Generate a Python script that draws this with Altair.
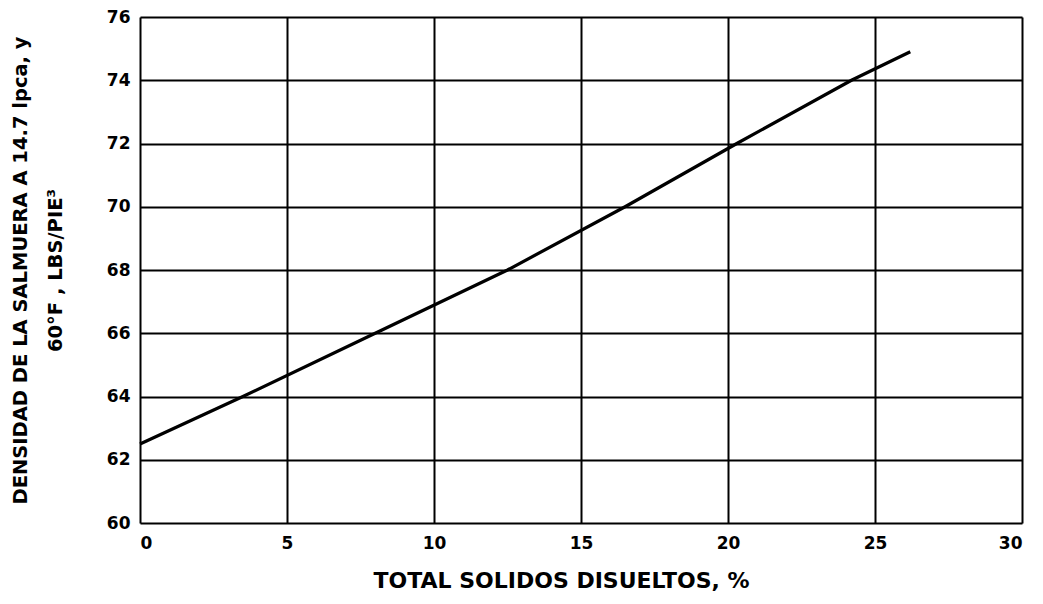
import altair as alt
import pandas as pd

solids = [0, 3.5, 8, 12.5, 16.5, 20.3, 24.2, 26.2]
density = [62.5, 64.0, 66.0, 68.0, 70.0, 72.0, 74.0, 74.9]
x_ticks = [0, 5, 10, 15, 20, 25, 30]
y_ticks = [60, 62, 64, 66, 68, 70, 72, 74, 76]

df = pd.DataFrame({"solids": solids, "density": density})

FONT = "DejaVu Sans"

chart = alt.Chart(df).mark_line(color="black", strokeWidth=3.2).encode(
    x=alt.X("solids:Q",
            scale=alt.Scale(domain=[0, 30], nice=False, zero=False),
            axis=alt.Axis(values=x_ticks, title="TOTAL SOLIDOS DISUELTOS, %",
                          grid=True, gridColor="black", gridWidth=2, gridOpacity=1,
                          domain=False, ticks=False, labelPadding=12,
                          labelFont=FONT, labelFontSize=17, labelFontWeight="bold",
                          labelColor="black", titleFont=FONT, titleFontSize=22,
                          titleFontWeight="bold", titleColor="black", titlePadding=19,
                          titleX=421)),
    y=alt.Y("density:Q",
            scale=alt.Scale(domain=[60, 76], nice=False, zero=False),
            axis=alt.Axis(values=y_ticks,
                          title=["DENSIDAD DE LA SALMUERA A 14.7 lpca, y", "60°F , LBS/PIE³"],
                          grid=True, gridColor="black", gridWidth=2, gridOpacity=1,
                          domain=False, ticks=False, labelPadding=10,
                          labelFont=FONT, labelFontSize=17, labelFontWeight="bold",
                          labelColor="black", titleFont=FONT, titleFontSize=19.5,
                          titleFontWeight="bold", titleColor="black", titlePadding=41,
                          titleLineHeight=35)),
).properties(
    width=882, height=506,
    autosize=alt.AutoSizeParams(type="none"),
    padding={"left": 132, "top": 9, "right": 10, "bottom": 78},
).configure_view(
    stroke="black", strokeWidth=3.5
).configure(background="white")

chart.save("out.html", embed_options={"renderer": "svg", "actions": False})
